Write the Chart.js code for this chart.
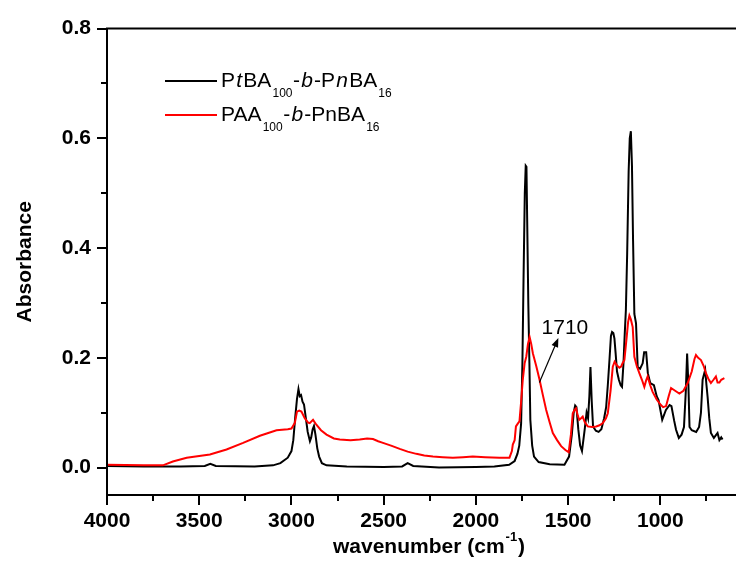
<!DOCTYPE html>
<html>
<head>
<meta charset="utf-8">
<script src="https://cdn.jsdelivr.net/npm/chart.js@4.4.1/dist/chart.umd.min.js"></script>
<style>
  html, body { margin: 0; padding: 0; background: #fff; }
  #wrap { width: 736px; height: 577px; }
</style>
</head>
<body>
<div id="wrap"><canvas id="ftir" width="736" height="577"></canvas></div>
<script>
// ==========================================
// 1. Data
// ==========================================
// PtBA100-b-PnBA16 (black)
const ptbaWn = [4000, 3800, 3600, 3470, 3440, 3410, 3200, 3100, 3060, 3020, 3000, 2990, 2980, 2970, 2962, 2955, 2948, 2940, 2932, 2922, 2912, 2900, 2893, 2885, 2878, 2870, 2860, 2850, 2835, 2810, 2700, 2500, 2400, 2370, 2340, 2200, 2000, 1900, 1820, 1790, 1775, 1765, 1755, 1748, 1742, 1735, 1730, 1726, 1722, 1716, 1710, 1705, 1695, 1685, 1660, 1600, 1520, 1495, 1480, 1470, 1462, 1455, 1445, 1435, 1425, 1410, 1400, 1392, 1385, 1379, 1372, 1365, 1350, 1335, 1320, 1305, 1294, 1285, 1276, 1268, 1262, 1255, 1249, 1243, 1235, 1225, 1215, 1208, 1200, 1193, 1187, 1180, 1172, 1166, 1160, 1154, 1148, 1141, 1132, 1123, 1110, 1096, 1088, 1077, 1068, 1055, 1035, 1020, 1010, 990, 970, 950, 940, 925, 915, 900, 885, 872, 862, 855, 848, 842, 830, 806, 790, 780, 771, 757, 750, 744, 735, 726, 710, 690, 680, 670, 663];
const ptbaAbs = [0.003, 0.002, 0.002, 0.003, 0.007, 0.003, 0.002, 0.004, 0.008, 0.018, 0.03, 0.05, 0.09, 0.125, 0.143, 0.13, 0.132, 0.12, 0.115, 0.09, 0.065, 0.048, 0.055, 0.07, 0.076, 0.06, 0.035, 0.02, 0.008, 0.004, 0.002, 0.001, 0.002, 0.008, 0.003, 0.0, 0.001, 0.002, 0.005, 0.012, 0.025, 0.04, 0.08, 0.19, 0.34, 0.5, 0.55, 0.548, 0.45, 0.3, 0.19, 0.087, 0.04, 0.02, 0.01, 0.006, 0.005, 0.02, 0.06, 0.1, 0.113, 0.11, 0.07, 0.04, 0.03, 0.07, 0.1, 0.09, 0.13, 0.183, 0.12, 0.075, 0.067, 0.065, 0.07, 0.09, 0.11, 0.15, 0.196, 0.24, 0.247, 0.245, 0.235, 0.21, 0.175, 0.16, 0.15, 0.147, 0.19, 0.245, 0.287, 0.39, 0.54, 0.6, 0.613, 0.55, 0.413, 0.28, 0.263, 0.183, 0.18, 0.19, 0.21, 0.21, 0.172, 0.154, 0.15, 0.13, 0.123, 0.087, 0.105, 0.114, 0.112, 0.085, 0.069, 0.054, 0.06, 0.074, 0.14, 0.208, 0.15, 0.074, 0.068, 0.065, 0.074, 0.1, 0.16, 0.178, 0.15, 0.129, 0.09, 0.063, 0.054, 0.063, 0.05, 0.055, 0.051];

// PAA100-b-PnBA16 (red)
const paaWn = [4000, 3800, 3697, 3643, 3568, 3442, 3352, 3262, 3171, 3081, 3020, 3000, 2982, 2970, 2958, 2946, 2928, 2910, 2901, 2883, 2865, 2840, 2810, 2770, 2738, 2680, 2630, 2590, 2558, 2530, 2504, 2460, 2413, 2370, 2323, 2280, 2233, 2180, 2125, 2070, 2017, 1950, 1872, 1818, 1805, 1800, 1790, 1783, 1773, 1764, 1755, 1746, 1736, 1727, 1718, 1709, 1700, 1691, 1673, 1655, 1637, 1619, 1600, 1583, 1560, 1538, 1515, 1497, 1485, 1475, 1465, 1457, 1448, 1440, 1430, 1421, 1410, 1394, 1370, 1348, 1330, 1312, 1295, 1285, 1270, 1258, 1248, 1235, 1222, 1213, 1205, 1195, 1182, 1175, 1168, 1160, 1150, 1141, 1128, 1114, 1100, 1087, 1078, 1069, 1055, 1042, 1020, 997, 985, 969, 955, 942, 920, 897, 875, 852, 830, 815, 807, 795, 780, 765, 753, 740, 726, 712, 699, 690, 680, 670, 653];
const paaAbs = [0.005, 0.004, 0.004, 0.011, 0.018, 0.024, 0.033, 0.045, 0.058, 0.068, 0.07, 0.071, 0.081, 0.102, 0.104, 0.102, 0.09, 0.082, 0.081, 0.087, 0.078, 0.068, 0.06, 0.053, 0.051, 0.05, 0.051, 0.053, 0.052, 0.048, 0.045, 0.04, 0.034, 0.029, 0.025, 0.022, 0.02, 0.019, 0.018, 0.019, 0.02, 0.019, 0.018, 0.018, 0.03, 0.042, 0.05, 0.075, 0.08, 0.084, 0.12, 0.16, 0.19, 0.202, 0.225, 0.238, 0.225, 0.208, 0.185, 0.16, 0.132, 0.105, 0.082, 0.063, 0.05, 0.039, 0.032, 0.028, 0.06, 0.099, 0.105, 0.108, 0.095, 0.087, 0.09, 0.093, 0.083, 0.075, 0.074, 0.075, 0.077, 0.081, 0.09, 0.099, 0.14, 0.184, 0.193, 0.186, 0.182, 0.184, 0.19, 0.196, 0.24, 0.265, 0.277, 0.27, 0.256, 0.202, 0.185, 0.172, 0.16, 0.147, 0.158, 0.166, 0.15, 0.138, 0.124, 0.114, 0.11, 0.112, 0.13, 0.145, 0.14, 0.135, 0.14, 0.154, 0.175, 0.198, 0.205, 0.2, 0.196, 0.185, 0.172, 0.162, 0.154, 0.16, 0.166, 0.155, 0.155, 0.16, 0.163];

// Axis ticks
const xMajorTicks = [4000, 3500, 3000, 2500, 2000, 1500, 1000];
const xMinorTicks = [3750, 3250, 2750, 2250, 1750, 1250, 750];
const yMajorTicks = [0, 0.2, 0.4, 0.6, 0.8];
const yMinorTicks = [0.1, 0.3, 0.5, 0.7];

// Legend labels (rich text pieces: t = text, it = italic, sub = subscript)
const legendBlack = [{t:'P'},{t:'t',it:true},{t:'BA'},{t:'100',sub:true},{t:'-'},{t:'b',it:true},{t:'-P'},{t:'n',it:true},{t:'BA'},{t:'16',sub:true}];
const legendRed = [{t:'PAA'},{t:'100',sub:true},{t:'-'},{t:'b',it:true},{t:'-PnBA'},{t:'16',sub:true}];

// Annotation: peak label and arrow (wavenumber, absorbance)
const peakLabel = '1710';
const peakLabelAt = [1644, 0.244];
const arrowFrom = [1656, 0.155];
const arrowTo = [1553, 0.236];

const FONT = '"Liberation Sans", Arial, sans-serif';

// ==========================================
// 2. Custom drawing (frame, ticks, titles, legend, arrow)
// ==========================================
function drawRich(ctx, x, y, parts) {
    parts.forEach(p => {
        ctx.font = (p.it ? 'italic ' : '') + (p.sub ? '12px ' : '21px ') + FONT;
        ctx.fillText(p.t, x, p.sub ? y + 10 : y);
        x += ctx.measureText(p.t).width + (p.sub ? 0.5 : 1.2);
    });
}

const spectrumDecor = {
    id: 'spectrumDecor',
    afterDraw(chart) {
        const ctx = chart.ctx;
        const {left, right, top, bottom} = chart.chartArea;
        const xs = chart.scales.x, ys = chart.scales.y;
        ctx.save();
        ctx.strokeStyle = '#000';
        ctx.fillStyle = '#000';
        ctx.lineWidth = 2;

        // frame: left, bottom, top
        ctx.beginPath();
        ctx.moveTo(left, top); ctx.lineTo(left, bottom);
        ctx.moveTo(left - 1, bottom); ctx.lineTo(right, bottom);
        ctx.moveTo(left - 1, top); ctx.lineTo(right, top);
        ctx.stroke();

        // x ticks (outward)
        ctx.beginPath();
        xMajorTicks.forEach(v => { const px = Math.round(xs.getPixelForValue(v)); ctx.moveTo(px, bottom); ctx.lineTo(px, bottom + 10); });
        xMinorTicks.forEach(v => { const px = Math.round(xs.getPixelForValue(v)); ctx.moveTo(px, bottom); ctx.lineTo(px, bottom + 6); });
        // y ticks (outward)
        yMajorTicks.forEach(v => { const py = Math.round(ys.getPixelForValue(v)); ctx.moveTo(left, py); ctx.lineTo(left - 10, py); });
        yMinorTicks.forEach(v => { const py = Math.round(ys.getPixelForValue(v)); ctx.moveTo(left, py); ctx.lineTo(left - 6, py); });
        ctx.stroke();

        // axis titles
        ctx.textBaseline = 'alphabetic';
        ctx.font = 'bold 21px ' + FONT;
        ctx.textAlign = 'center';
        ctx.save();
        ctx.translate(31, (top + bottom) / 2);
        ctx.rotate(-Math.PI / 2);
        ctx.fillText('Absorbance', 0, 0);
        ctx.restore();

        ctx.textAlign = 'left';
        let tx = 333;
        const ty = 553;
        ctx.font = 'bold 21px ' + FONT;
        ctx.fillText('wavenumber (cm', tx, ty);
        tx += ctx.measureText('wavenumber (cm').width + 1;
        ctx.font = 'bold 13px ' + FONT;
        ctx.fillText('-1', tx, ty - 12);
        tx += ctx.measureText('-1').width + 1;
        ctx.font = 'bold 21px ' + FONT;
        ctx.fillText(')', tx, ty);

        // legend
        ctx.lineWidth = 2;
        ctx.strokeStyle = '#000';
        ctx.beginPath(); ctx.moveTo(165, 81); ctx.lineTo(217, 81); ctx.stroke();
        ctx.strokeStyle = '#ff0000';
        ctx.beginPath(); ctx.moveTo(165, 115); ctx.lineTo(217, 115); ctx.stroke();
        ctx.fillStyle = '#000';
        drawRich(ctx, 221, 87, legendBlack);
        drawRich(ctx, 221, 121, legendRed);

        // 1710 annotation
        ctx.font = '21px ' + FONT;
        ctx.fillText(peakLabel, xs.getPixelForValue(peakLabelAt[0]), ys.getPixelForValue(peakLabelAt[1]));
        const x0 = xs.getPixelForValue(arrowFrom[0]), y0 = ys.getPixelForValue(arrowFrom[1]);
        const x1 = xs.getPixelForValue(arrowTo[0]), y1 = ys.getPixelForValue(arrowTo[1]);
        const ang = Math.atan2(y1 - y0, x1 - x0);
        ctx.strokeStyle = '#000';
        ctx.lineWidth = 1.2;
        ctx.beginPath(); ctx.moveTo(x0, y0); ctx.lineTo(x1 - 6 * Math.cos(ang), y1 - 6 * Math.sin(ang)); ctx.stroke();
        ctx.beginPath();
        ctx.moveTo(x1, y1);
        ctx.lineTo(x1 - 9 * Math.cos(ang) + 3.5 * Math.sin(ang), y1 - 9 * Math.sin(ang) - 3.5 * Math.cos(ang));
        ctx.lineTo(x1 - 9 * Math.cos(ang) - 3.5 * Math.sin(ang), y1 - 9 * Math.sin(ang) + 3.5 * Math.cos(ang));
        ctx.closePath();
        ctx.fill();

        ctx.restore();
    }
};

// ==========================================
// 3. Chart
// ==========================================
const toPoints = (xs, ys) => xs.map((x, i) => ({x: x, y: ys[i]}));

new Chart(document.getElementById('ftir'), {
    type: 'line',
    data: {
        datasets: [
            { label: 'PAA100-b-PnBA16', data: toPoints(paaWn, paaAbs), borderColor: '#ff0000', borderWidth: 2, pointRadius: 0, tension: 0, order: 0 },
            { label: 'PtBA100-b-PnBA16', data: toPoints(ptbaWn, ptbaAbs), borderColor: '#000000', borderWidth: 2, pointRadius: 0, tension: 0, order: 1 }
        ]
    },
    options: {
        responsive: false,
        animation: false,
        devicePixelRatio: 1,
        layout: { padding: { top: 26, right: 0, left: 0, bottom: 0 } },
        plugins: { legend: { display: false }, tooltip: { enabled: false } },
        scales: {
            x: {
                type: 'linear',
                reverse: true,
                min: 590,
                max: 4000,
                grid: { display: false, drawTicks: false },
                border: { display: false },
                afterBuildTicks: s => { s.ticks = xMajorTicks.map(v => ({value: v})); },
                afterFit: s => { s.height = 82; },
                ticks: {
                    color: '#000',
                    padding: 14,
                    maxRotation: 0,
                    font: { family: FONT, size: 21, weight: 'bold' },
                    callback: v => String(v)
                }
            },
            y: {
                min: -0.05,
                max: 0.8,
                grid: { display: false, drawTicks: false },
                border: { display: false },
                afterBuildTicks: s => { s.ticks = yMajorTicks.map(v => ({value: v})); },
                afterFit: s => { s.width = 107; },
                ticks: {
                    color: '#000',
                    padding: 16,
                    font: { family: FONT, size: 21, weight: 'bold' },
                    callback: v => Number(v).toFixed(1)
                }
            }
        }
    },
    plugins: [spectrumDecor]
});
</script>
</body>
</html>
